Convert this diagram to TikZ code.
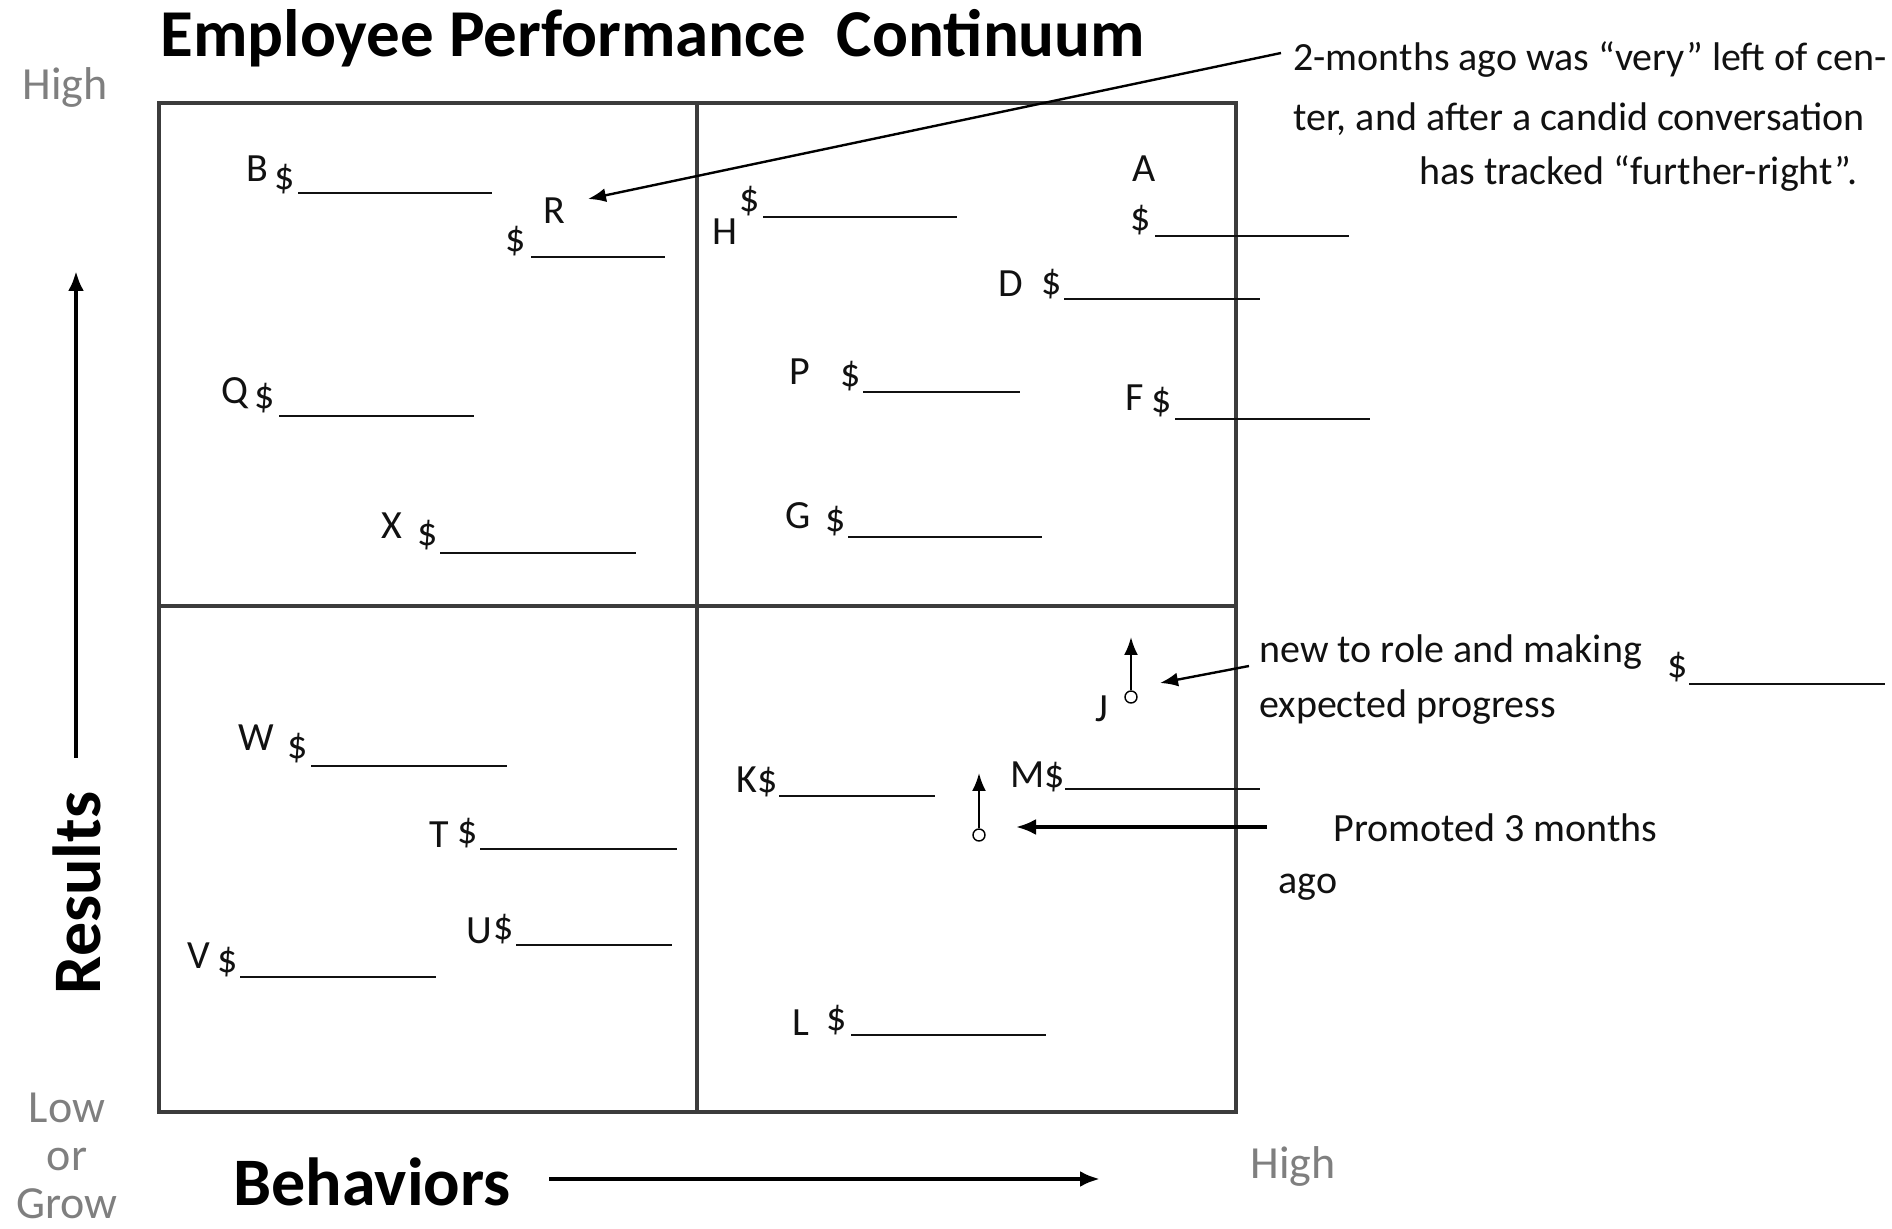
\documentclass[tikz,border=0pt]{standalone}
\usepackage{fontspec}
\setmainfont{Carlito}
\usetikzlibrary{arrows.meta, positioning}
\definecolor{gridline}{HTML}{3C3C3C}
\definecolor{axisgray}{HTML}{7F7F7F}
\definecolor{textdark}{HTML}{111111}
\tikzset{
  % Quadrant frame
  frame/.style={draw=gridline, line width=1.8pt},
  % Employee letters and dollar signs
  tag/.style={inner sep=0pt, font=\fontsize{20}{24}\selectfont, text=textdark},
  blank/.style={line width=1.1pt, textdark},
  % Side notes
  note/.style={inner sep=0pt, anchor=west, font=\fontsize{20}{24}\selectfont, text=textdark},
  % Axis ends and names
  axislbl/.style={inner sep=0pt, font=\fontsize{23}{24}\selectfont, text=axisgray},
  axisname/.style={inner sep=0pt, font=\fontsize{34}{40}\selectfont\bfseries, text=black},
  title/.style={inner sep=0pt, font=\fontsize{33.5}{40}\selectfont\bfseries, text=black},
  % Markers for moving employees
  ring/.style={circle, draw, fill=white, inner sep=0pt, minimum size=6pt, line width=0.7pt},
  % Arrows
  arr/.style={-{Latex[length=9pt, width=7pt]}, line width=1.2pt},
  thickarr/.style={-{Latex[length=10pt, width=8pt]}, line width=1.8pt},
  axisarr/.style={-{Latex[length=10pt, width=8pt]}, line width=2pt},
}
\begin{document}
\begin{tikzpicture}[x=0.5pt, y=-0.5pt]
  \useasboundingbox (0,0) rectangle (1892,1229);

  % title and axes
  \node[title] (ttl) at (653,38) {Employee Performance\ \ Continuum};
  \node[axislbl] (hitop) at (65,87) {High};
  \node[axislbl, align=center] (lowend) at (67,1156) {Low\\or\\Grow};
  \node[axislbl] (hiright) at (1293,1166) {High};
  \node[axisname, rotate=90] (res) at (77,893) {Results};
  \node[axisname] (beh) at (372,1182) {Behaviors};
  \coordinate (resfoot) at (76,758);
  \coordinate (reshead) at (76,271);
  \coordinate (behfoot) at (549,1179);
  \coordinate (behhead) at (1100,1179);
  \draw[axisarr] (resfoot) -- (reshead);
  \draw[axisarr] (behfoot) -- (behhead);

  % quadrants
  \draw[frame] (159,103) rectangle (1236,1112);
  \draw[frame] (697,103) -- (697,1112);
  \draw[frame] (159,606) -- (1236,606);

  % top left
  \node[tag] (b) at (257,169) {B};
  \node[tag] (bd) at (285,179) {\$};
  \draw[blank] (298,193) -- (492,193);
  \node[tag] (r) at (554,211) {R};
  \node[tag] (rd) at (516,241) {\$};
  \draw[blank] (531,257) -- (665,257);
  \node[tag] (q) at (235,393) {Q};
  \node[tag] (qd) at (265,398) {\$};
  \draw[blank] (279,416) -- (474,416);
  \node[tag] (x) at (392,526) {X};
  \node[tag] (xd) at (428,535) {\$};
  \draw[blank] (440,553) -- (636,553);

  % top right
  \node[tag] (h) at (725,232) {H};
  \node[tag] (hd) at (750,201) {\$};
  \draw[blank] (763,217) -- (957,217);
  \node[tag] (a) at (1144,169) {A};
  \node[tag] (ad) at (1141,220) {\$};
  \draw[blank] (1155,236) -- (1349,236);
  \node[tag] (d) at (1011,284) {D};
  \node[tag] (dd) at (1052,284) {\$};
  \draw[blank] (1064,299) -- (1260,299);
  \node[tag] (p) at (800,372) {P};
  \node[tag] (pd) at (851,376) {\$};
  \draw[blank] (863,392) -- (1020,392);
  \node[tag] (f) at (1135,398) {F};
  \node[tag] (fd) at (1162,402) {\$};
  \draw[blank] (1175,419) -- (1370,419);
  \node[tag] (g) at (798,516) {G};
  \node[tag] (gd) at (836,521) {\$};
  \draw[blank] (848,537) -- (1042,537);

  % bottom left
  \node[tag] (w) at (256,738) {W};
  \node[tag] (wd) at (298,748) {\$};
  \draw[blank] (311,766) -- (507,766);
  \node[tag] (t) at (439,835) {T};
  \node[tag] (td) at (468,833) {\$};
  \draw[blank] (480,849) -- (677,849);
  \node[tag] (u) at (479,931) {U};
  \node[tag] (ud) at (504,929) {\$};
  \draw[blank] (516,945) -- (672,945);
  \node[tag] (v) at (199,956) {V};
  \node[tag] (vd) at (228,962) {\$};
  \draw[blank] (240,977) -- (436,977);

  % bottom right
  \node[tag] (k) at (757,782) {K\$};
  \draw[blank] (779,796) -- (935,796);
  \node[tag] (m) at (1038,777) {M\$};
  \draw[blank] (1065,789) -- (1260,789);
  \node[tag] (l) at (801,1023) {L};
  \node[tag] (ld) at (837,1020) {\$};
  \draw[blank] (851,1035) -- (1046,1035);
  \node[tag] (j) at (1102,709) {J};
  \node[ring] (jring) at (1131,697) {};
  \coordinate (jtip) at (1131,637);
  \draw[arr] (jring) -- (jtip);
  \node[ring] (mring) at (979,835) {};
  \coordinate (mtip) at (979,773);
  \draw[arr] (mring) -- (mtip);

  % notes on the right
  \node[note] (rnote1) at (1293,60) {2-months ago was “very” left of cen-};
  \node[note] (rnote2) at (1293,119) {ter, and after a candid conversation};
  \node[note] (rnote3) at (1419,174) {has tracked “further-right”.};
  \coordinate (rfrom) at (1281,53);
  \coordinate (rto) at (588,199);
  \draw[arr] (rfrom) -- (rto);

  \node[note] (jnote1) at (1259,652) {new to role and making};
  \node[note] (jnote2) at (1259,707) {expected progress};
  \node[tag] (jd) at (1678,667) {\$};
  \draw[blank] (1689,684) -- (1885,684);
  \coordinate (jfrom) at (1249,666);
  \coordinate (jto) at (1160,683);
  \draw[arr] (jfrom) -- (jto);

  \node[note] (mnote1) at (1333,828) {Promoted 3 months};
  \node[note] (mnote2) at (1278,887) {ago};
  \coordinate (mfrom) at (1267,827);
  \coordinate (mto) at (1016,827);
  \draw[thickarr] (mfrom) -- (mto);
\end{tikzpicture}
\end{document}
